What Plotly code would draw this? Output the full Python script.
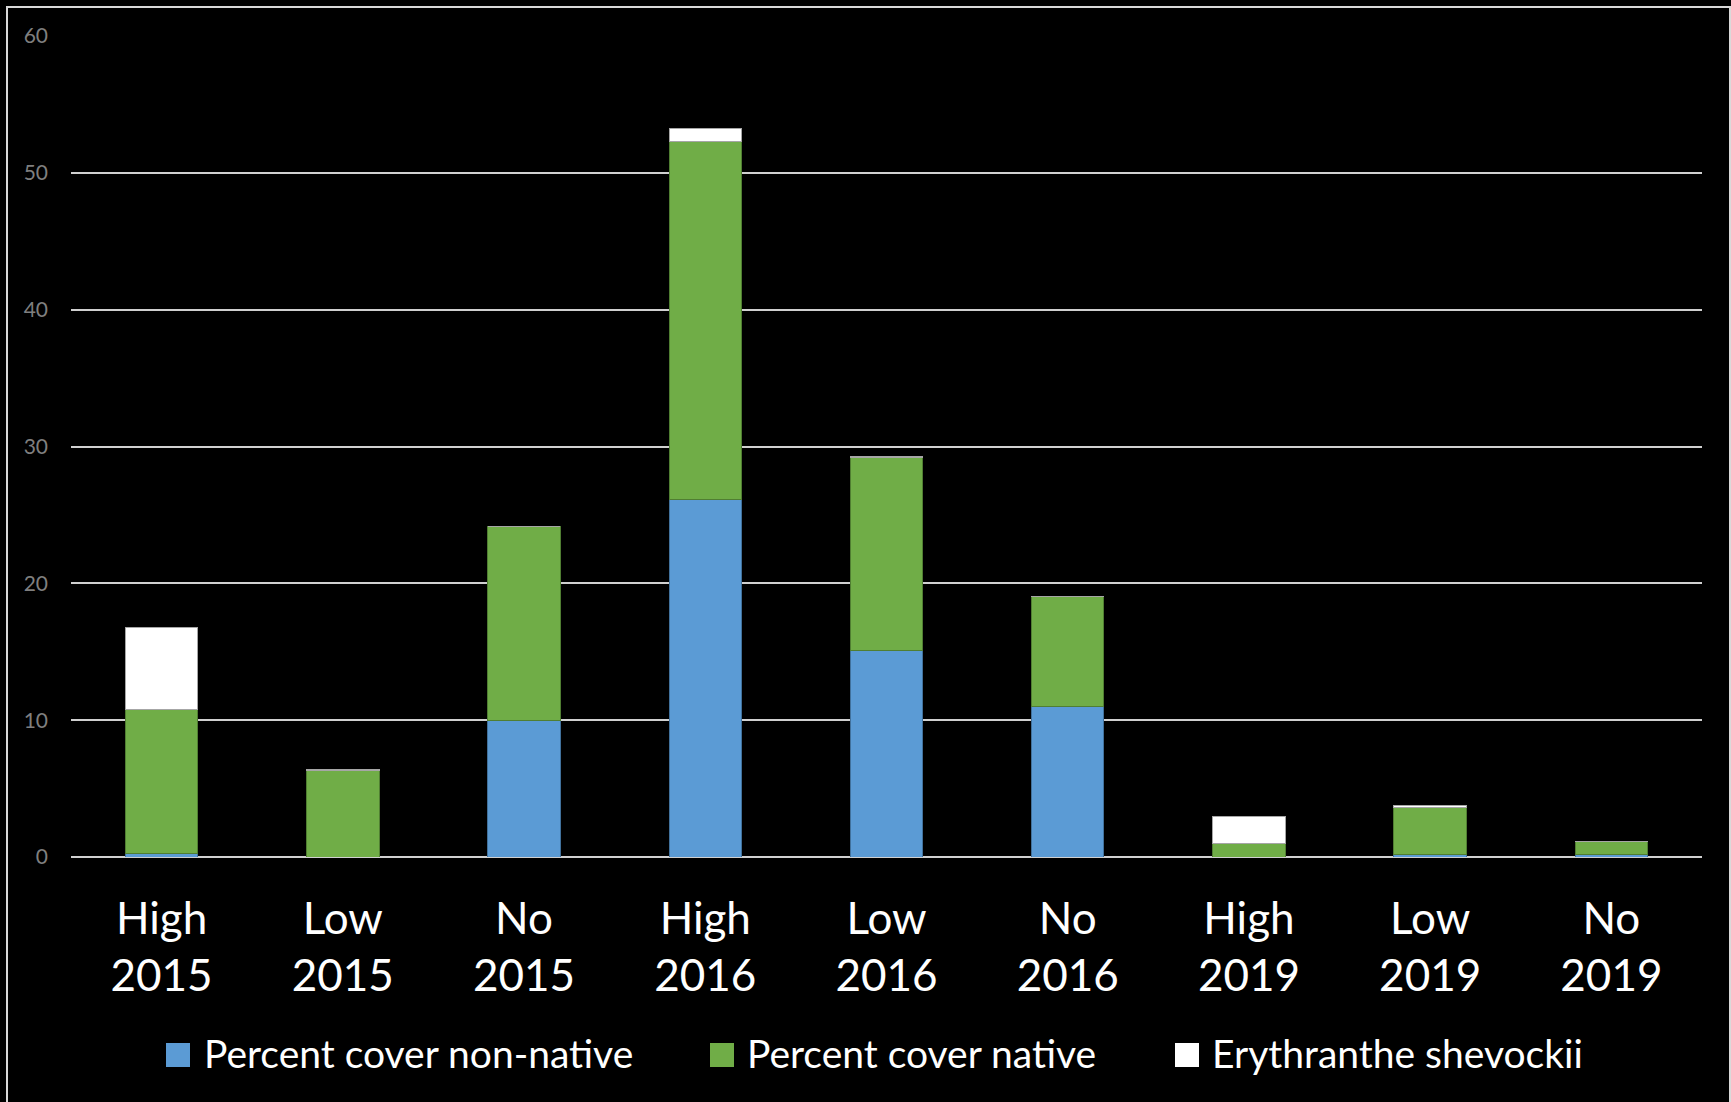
import plotly.graph_objects as go

# Site treatment / survey year categories
categories = ["High 2015", "Low 2015", "No 2015",
              "High 2016", "Low 2016", "No 2016",
              "High 2019", "Low 2019", "No 2019"]
tick_labels = ["High<br>2015", "Low<br>2015", "No<br>2015",
               "High<br>2016", "Low<br>2016", "No<br>2016",
               "High<br>2019", "Low<br>2019", "No<br>2019"]

# Percent cover values per category (stacked)
non_native = [0.25, 0.0, 10.0, 26.1, 15.1, 11.0, 0.0, 0.2, 0.2]
native = [10.5, 6.35, 14.15, 26.2, 14.1, 8.05, 1.0, 3.45, 0.95]
shevockii = [6.0, 0.06, 0.0, 0.95, 0.1, 0.0, 1.95, 0.1, 0.0]

series_names = ["Percent cover non-native", "Percent cover native", "Erythranthe shevockii"]
series_values = [non_native, native, shevockii]
fill_colors = ["#5b9bd5", "#70ad47", "#ffffff"]
edge_colors = ["#41719c", "#507e32", "#a6a6a6"]

y_ticks = [0, 10, 20, 30, 40, 50, 60]

W, H = 1731, 1102
ML, MR, MT, MB = 71, 29, 36, 245
PW, PH = W - ML - MR, H - MT - MB

fig = go.Figure()
for name, vals, fc, ec in zip(series_names, series_values, fill_colors, edge_colors):
    fig.add_trace(go.Bar(
        x=categories, y=vals, name=name,
        marker=dict(color=fc, line=dict(color=ec, width=1)),
        showlegend=False,
    ))


def px_x(px):
    return (px - ML) / PW


def px_y(py):
    return (H - MB - py) / PH


shapes = [
    # outer chart frame
    dict(type="rect", xref="paper", yref="paper",
         x0=px_x(7), x1=px_x(1730), y0=px_y(1104), y1=px_y(7),
         line=dict(color="#d9d9d9", width=2), layer="below"),
]
annotations = []

# legend row drawn underneath the axis labels
legend_squares_x = [166, 710, 1175]
legend_text_x = [202, 745, 1210]
legend_cy = 1055
for name, fc, sx, tx in zip(series_names, fill_colors, legend_squares_x, legend_text_x):
    shapes.append(dict(type="rect", xref="paper", yref="paper",
                       x0=px_x(sx), x1=px_x(sx + 24),
                       y0=px_y(legend_cy + 12), y1=px_y(legend_cy - 12),
                       fillcolor=fc, line=dict(width=0)))
    annotations.append(dict(xref="paper", yref="paper", x=px_x(tx), y=px_y(legend_cy - 2),
                            xanchor="left", yanchor="middle", showarrow=False,
                            text=name, font=dict(family="Lato", size=39, color="#ffffff")))

fig.update_layout(
    width=W, height=H,
    margin=dict(l=ML, r=MR, t=MT, b=MB),
    paper_bgcolor="#000000", plot_bgcolor="#000000",
    barmode="stack", bargap=0.6,
    font=dict(family="Lato"),
    shapes=shapes, annotations=annotations,
    xaxis=dict(
        type="category", tickvals=categories, ticktext=tick_labels,
        tickfont=dict(family="Lato", size=44, color="#ffffff"),
        showgrid=False, showline=False, zeroline=False, ticks="",
        ticklabelstandoff=32,
    ),
    yaxis=dict(
        range=[0, 60], tickvals=y_ticks,
        tickfont=dict(family="Lato", size=21, color="#7f7f7f"),
        showgrid=True, gridcolor="#d0d0d0", gridwidth=2,
        zeroline=True, zerolinecolor="#d0d0d0", zerolinewidth=2,
        showline=False, ticks="", ticklabelstandoff=22,
    ),
)

fig.write_html("out.html")
